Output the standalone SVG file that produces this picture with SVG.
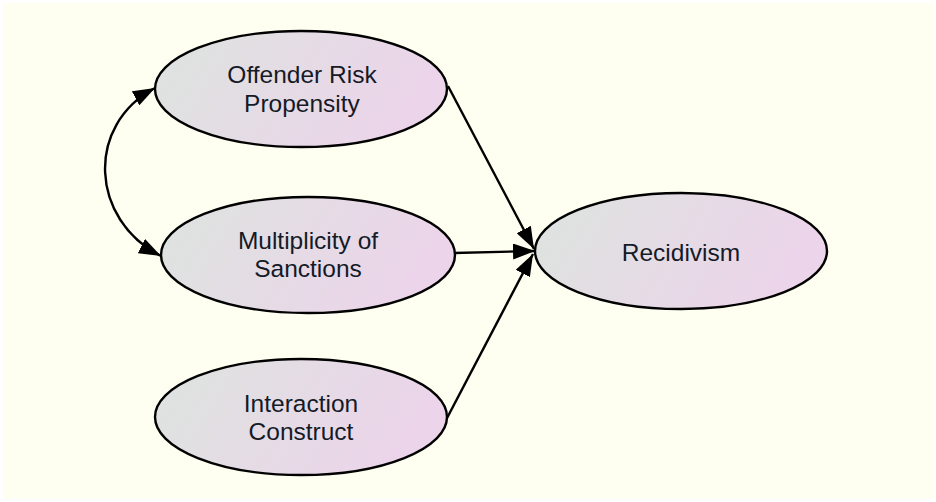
<svg xmlns="http://www.w3.org/2000/svg" width="936" height="502" viewBox="0 0 936 502">
  <defs>
    <linearGradient id="nodeFill" x1="0" y1="0" x2="1" y2="0.25">
      <stop offset="0" stop-color="#dde4df"/>
      <stop offset="1" stop-color="#ecd4ea"/>
    </linearGradient>
    <marker id="arrow" viewBox="0 0 22 16" refX="22" refY="8" markerWidth="22" markerHeight="16" markerUnits="userSpaceOnUse" orient="auto-start-reverse">
      <path d="M0,0 L22,8 L0,16 Z" fill="#000"/>
    </marker>
    <style>
      .node ellipse { fill: url(#nodeFill); stroke: #000; stroke-width: 2.4; }
      .node text { font-family: "Liberation Sans", Arial, sans-serif; font-size: 24.5px; fill: #141a26; text-anchor: middle; }
      .edge { fill: none; stroke: #000; stroke-width: 2.4; }
    </style>
  </defs>

  <!-- canvas -->
  <rect x="0" y="0" width="936" height="502" fill="#ffffff"/>
  <rect x="3" y="3" width="930" height="496" fill="#fefff0"/>

  <!-- connectors -->
  <g id="connectors">
    <path class="edge" d="M155,88 C85,125 90,220 161,256" marker-start="url(#arrow)" marker-end="url(#arrow)"/>
    <path class="edge" d="M448,86 L534,249" marker-end="url(#arrow)"/>
    <path class="edge" d="M454,253 L535,251" marker-end="url(#arrow)"/>
    <path class="edge" d="M446,420 L533,254" marker-end="url(#arrow)"/>
  </g>

  <!-- nodes -->
  <g id="offender-risk-propensity" class="node">
    <ellipse cx="301" cy="89" rx="146" ry="58"/>
    <text x="302" y="83">Offender Risk</text>
    <text x="302" y="112">Propensity</text>
  </g>
  <g id="multiplicity-of-sanctions" class="node">
    <ellipse cx="308" cy="255" rx="147" ry="58"/>
    <text x="308" y="249">Multiplicity of</text>
    <text x="308" y="277">Sanctions</text>
  </g>
  <g id="interaction-construct" class="node">
    <ellipse cx="301" cy="417" rx="146" ry="58"/>
    <text x="301" y="412">Interaction</text>
    <text x="301" y="440">Construct</text>
  </g>
  <g id="recidivism" class="node">
    <ellipse cx="681" cy="251" rx="146" ry="58"/>
    <text x="681" y="261">Recidivism</text>
  </g>
</svg>
